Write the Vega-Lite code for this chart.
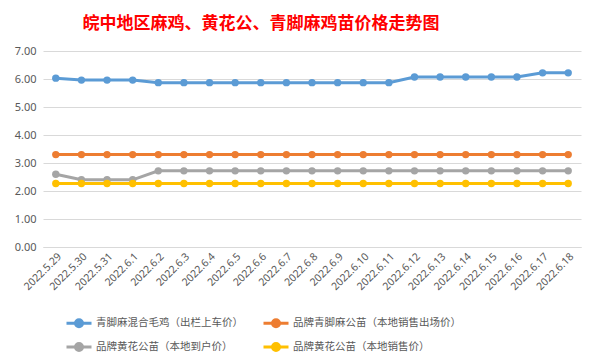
{
  "$schema": "https://vega.github.io/schema/vega-lite/v6.json",
  "width": 538,
  "height": 196,
  "autosize": {"type": "none"},
  "padding": {"left": 43, "top": 51, "right": 19, "bottom": 117},
  "background": "white",
  "title": {
    "text": "皖中地区麻鸡、黄花公、青脚麻鸡苗价格走势图",
    "color": "#FF0000",
    "font": "Noto Sans CJK SC",
    "fontSize": 17,
    "fontWeight": "bold",
    "anchor": "middle",
    "dx": -51,
    "offset": 12
  },
  "config": {
    "view": {"stroke": null},
    "font": "Noto Sans CJK SC"
  },
  "datasets": {
    "prices": [
      {"d": "2022.5.29", "s": "青脚麻混合毛鸡（出栏上车价）", "v": 6.03},
      {"d": "2022.5.30", "s": "青脚麻混合毛鸡（出栏上车价）", "v": 5.96},
      {"d": "2022.5.31", "s": "青脚麻混合毛鸡（出栏上车价）", "v": 5.96},
      {"d": "2022.6.1", "s": "青脚麻混合毛鸡（出栏上车价）", "v": 5.96},
      {"d": "2022.6.2", "s": "青脚麻混合毛鸡（出栏上车价）", "v": 5.87},
      {"d": "2022.6.3", "s": "青脚麻混合毛鸡（出栏上车价）", "v": 5.87},
      {"d": "2022.6.4", "s": "青脚麻混合毛鸡（出栏上车价）", "v": 5.87},
      {"d": "2022.6.5", "s": "青脚麻混合毛鸡（出栏上车价）", "v": 5.87},
      {"d": "2022.6.6", "s": "青脚麻混合毛鸡（出栏上车价）", "v": 5.87},
      {"d": "2022.6.7", "s": "青脚麻混合毛鸡（出栏上车价）", "v": 5.87},
      {"d": "2022.6.8", "s": "青脚麻混合毛鸡（出栏上车价）", "v": 5.87},
      {"d": "2022.6.9", "s": "青脚麻混合毛鸡（出栏上车价）", "v": 5.87},
      {"d": "2022.6.10", "s": "青脚麻混合毛鸡（出栏上车价）", "v": 5.87},
      {"d": "2022.6.11", "s": "青脚麻混合毛鸡（出栏上车价）", "v": 5.87},
      {"d": "2022.6.12", "s": "青脚麻混合毛鸡（出栏上车价）", "v": 6.07},
      {"d": "2022.6.13", "s": "青脚麻混合毛鸡（出栏上车价）", "v": 6.07},
      {"d": "2022.6.14", "s": "青脚麻混合毛鸡（出栏上车价）", "v": 6.07},
      {"d": "2022.6.15", "s": "青脚麻混合毛鸡（出栏上车价）", "v": 6.07},
      {"d": "2022.6.16", "s": "青脚麻混合毛鸡（出栏上车价）", "v": 6.07},
      {"d": "2022.6.17", "s": "青脚麻混合毛鸡（出栏上车价）", "v": 6.22},
      {"d": "2022.6.18", "s": "青脚麻混合毛鸡（出栏上车价）", "v": 6.22},
      {"d": "2022.5.29", "s": "品牌青脚麻公苗（本地销售出场价）", "v": 3.3},
      {"d": "2022.5.30", "s": "品牌青脚麻公苗（本地销售出场价）", "v": 3.3},
      {"d": "2022.5.31", "s": "品牌青脚麻公苗（本地销售出场价）", "v": 3.3},
      {"d": "2022.6.1", "s": "品牌青脚麻公苗（本地销售出场价）", "v": 3.3},
      {"d": "2022.6.2", "s": "品牌青脚麻公苗（本地销售出场价）", "v": 3.3},
      {"d": "2022.6.3", "s": "品牌青脚麻公苗（本地销售出场价）", "v": 3.3},
      {"d": "2022.6.4", "s": "品牌青脚麻公苗（本地销售出场价）", "v": 3.3},
      {"d": "2022.6.5", "s": "品牌青脚麻公苗（本地销售出场价）", "v": 3.3},
      {"d": "2022.6.6", "s": "品牌青脚麻公苗（本地销售出场价）", "v": 3.3},
      {"d": "2022.6.7", "s": "品牌青脚麻公苗（本地销售出场价）", "v": 3.3},
      {"d": "2022.6.8", "s": "品牌青脚麻公苗（本地销售出场价）", "v": 3.3},
      {"d": "2022.6.9", "s": "品牌青脚麻公苗（本地销售出场价）", "v": 3.3},
      {"d": "2022.6.10", "s": "品牌青脚麻公苗（本地销售出场价）", "v": 3.3},
      {"d": "2022.6.11", "s": "品牌青脚麻公苗（本地销售出场价）", "v": 3.3},
      {"d": "2022.6.12", "s": "品牌青脚麻公苗（本地销售出场价）", "v": 3.3},
      {"d": "2022.6.13", "s": "品牌青脚麻公苗（本地销售出场价）", "v": 3.3},
      {"d": "2022.6.14", "s": "品牌青脚麻公苗（本地销售出场价）", "v": 3.3},
      {"d": "2022.6.15", "s": "品牌青脚麻公苗（本地销售出场价）", "v": 3.3},
      {"d": "2022.6.16", "s": "品牌青脚麻公苗（本地销售出场价）", "v": 3.3},
      {"d": "2022.6.17", "s": "品牌青脚麻公苗（本地销售出场价）", "v": 3.3},
      {"d": "2022.6.18", "s": "品牌青脚麻公苗（本地销售出场价）", "v": 3.3},
      {"d": "2022.5.29", "s": "品牌黄花公苗（本地到户价）", "v": 2.6},
      {"d": "2022.5.30", "s": "品牌黄花公苗（本地到户价）", "v": 2.4},
      {"d": "2022.5.31", "s": "品牌黄花公苗（本地到户价）", "v": 2.4},
      {"d": "2022.6.1", "s": "品牌黄花公苗（本地到户价）", "v": 2.4},
      {"d": "2022.6.2", "s": "品牌黄花公苗（本地到户价）", "v": 2.72},
      {"d": "2022.6.3", "s": "品牌黄花公苗（本地到户价）", "v": 2.72},
      {"d": "2022.6.4", "s": "品牌黄花公苗（本地到户价）", "v": 2.72},
      {"d": "2022.6.5", "s": "品牌黄花公苗（本地到户价）", "v": 2.72},
      {"d": "2022.6.6", "s": "品牌黄花公苗（本地到户价）", "v": 2.72},
      {"d": "2022.6.7", "s": "品牌黄花公苗（本地到户价）", "v": 2.72},
      {"d": "2022.6.8", "s": "品牌黄花公苗（本地到户价）", "v": 2.72},
      {"d": "2022.6.9", "s": "品牌黄花公苗（本地到户价）", "v": 2.72},
      {"d": "2022.6.10", "s": "品牌黄花公苗（本地到户价）", "v": 2.72},
      {"d": "2022.6.11", "s": "品牌黄花公苗（本地到户价）", "v": 2.72},
      {"d": "2022.6.12", "s": "品牌黄花公苗（本地到户价）", "v": 2.72},
      {"d": "2022.6.13", "s": "品牌黄花公苗（本地到户价）", "v": 2.72},
      {"d": "2022.6.14", "s": "品牌黄花公苗（本地到户价）", "v": 2.72},
      {"d": "2022.6.15", "s": "品牌黄花公苗（本地到户价）", "v": 2.72},
      {"d": "2022.6.16", "s": "品牌黄花公苗（本地到户价）", "v": 2.72},
      {"d": "2022.6.17", "s": "品牌黄花公苗（本地到户价）", "v": 2.72},
      {"d": "2022.6.18", "s": "品牌黄花公苗（本地到户价）", "v": 2.72},
      {"d": "2022.5.29", "s": "品牌黄花公苗（本地销售价）", "v": 2.27},
      {"d": "2022.5.30", "s": "品牌黄花公苗（本地销售价）", "v": 2.27},
      {"d": "2022.5.31", "s": "品牌黄花公苗（本地销售价）", "v": 2.27},
      {"d": "2022.6.1", "s": "品牌黄花公苗（本地销售价）", "v": 2.27},
      {"d": "2022.6.2", "s": "品牌黄花公苗（本地销售价）", "v": 2.27},
      {"d": "2022.6.3", "s": "品牌黄花公苗（本地销售价）", "v": 2.27},
      {"d": "2022.6.4", "s": "品牌黄花公苗（本地销售价）", "v": 2.27},
      {"d": "2022.6.5", "s": "品牌黄花公苗（本地销售价）", "v": 2.27},
      {"d": "2022.6.6", "s": "品牌黄花公苗（本地销售价）", "v": 2.27},
      {"d": "2022.6.7", "s": "品牌黄花公苗（本地销售价）", "v": 2.27},
      {"d": "2022.6.8", "s": "品牌黄花公苗（本地销售价）", "v": 2.27},
      {"d": "2022.6.9", "s": "品牌黄花公苗（本地销售价）", "v": 2.27},
      {"d": "2022.6.10", "s": "品牌黄花公苗（本地销售价）", "v": 2.27},
      {"d": "2022.6.11", "s": "品牌黄花公苗（本地销售价）", "v": 2.27},
      {"d": "2022.6.12", "s": "品牌黄花公苗（本地销售价）", "v": 2.27},
      {"d": "2022.6.13", "s": "品牌黄花公苗（本地销售价）", "v": 2.27},
      {"d": "2022.6.14", "s": "品牌黄花公苗（本地销售价）", "v": 2.27},
      {"d": "2022.6.15", "s": "品牌黄花公苗（本地销售价）", "v": 2.27},
      {"d": "2022.6.16", "s": "品牌黄花公苗（本地销售价）", "v": 2.27},
      {"d": "2022.6.17", "s": "品牌黄花公苗（本地销售价）", "v": 2.27},
      {"d": "2022.6.18", "s": "品牌黄花公苗（本地销售价）", "v": 2.27}
    ]
  },
  "data": {"name": "prices"},
  "encoding": {
    "x": {
      "field": "d",
      "type": "ordinal",
      "sort": null,
      "scale": {"padding": 0.5},
      "axis": {
        "title": null,
        "labelAngle": -45,
        "labelFontSize": 10.5,
        "labelColor": "#595959",
        "labelFont": "Noto Sans",
        "ticks": false,
        "domainColor": "#D9D9D9",
        "labelPadding": 4
      }
    },
    "y": {
      "field": "v",
      "type": "quantitative",
      "scale": {"domain": [0, 7]},
      "axis": {
        "title": null,
        "values": [0, 1, 2, 3, 4, 5, 6, 7],
        "format": ".2f",
        "labelFontSize": 11,
        "labelColor": "#595959",
        "labelFont": "Noto Sans",
        "ticks": false,
        "domain": false,
        "gridColor": "#D9D9D9",
        "labelPadding": 7
      }
    },
    "color": {
      "field": "s",
      "type": "nominal",
      "scale": {
        "domain": ["青脚麻混合毛鸡（出栏上车价）", "品牌青脚麻公苗（本地销售出场价）", "品牌黄花公苗（本地到户价）", "品牌黄花公苗（本地销售价）"],
        "range": ["#5B9BD5", "#ED7D31", "#A5A5A5", "#FFC000"]
      },
      "legend": {
        "title": null,
        "orient": "none",
        "legendX": 22,
        "legendY": 258,
        "direction": "horizontal",
        "columns": 2,
        "columnPadding": 14,
        "rowPadding": -9,
        "labelFontSize": 10.5,
        "labelColor": "#595959",
        "labelOffset": 3,
        "labelLimit": 300,
        "symbolType": "M-1,0H1M-0.28,0A0.28,0.28,0,1,1,0.28,0A0.28,0.28,0,1,1,-0.28,0Z",
        "symbolSize": 625,
        "symbolStrokeWidth": 3,
        "encode": {
          "symbols": {
            "update": {
              "fill": {"scale": "color", "field": "value"},
              "stroke": {"scale": "color", "field": "value"}
            }
          }
        }
      }
    }
  },
  "layer": [
    {"mark": {"type": "line", "strokeWidth": 3}},
    {"mark": {"type": "point", "filled": true, "size": 55, "opacity": 1}}
  ]
}
